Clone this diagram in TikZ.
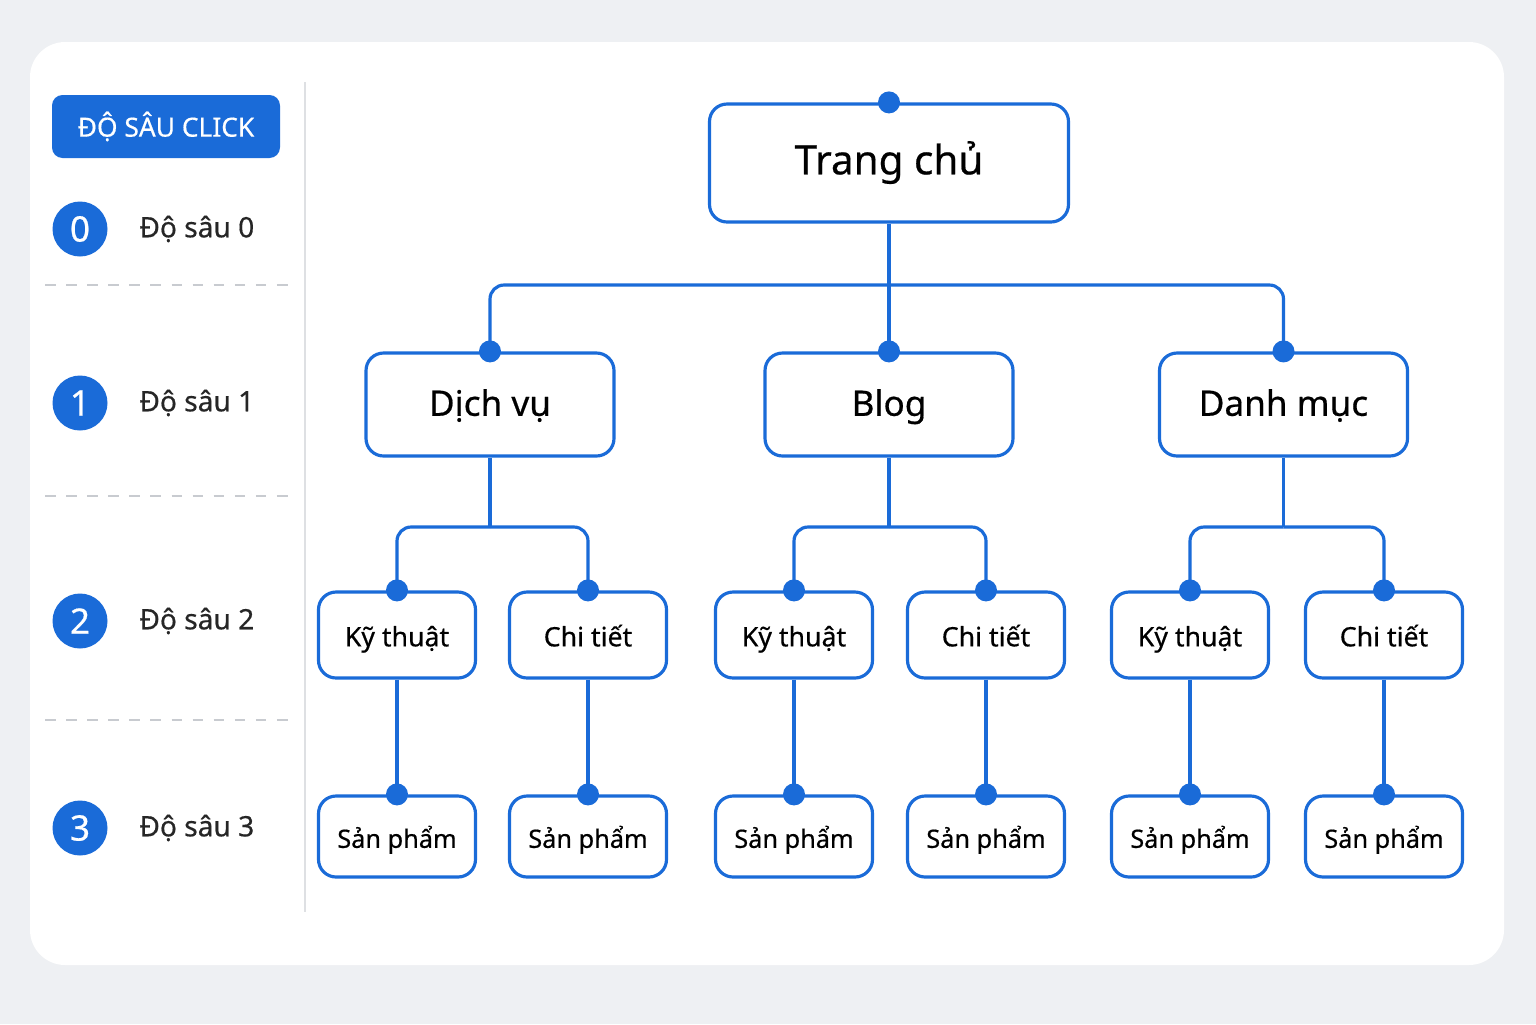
\documentclass[tikz,border=0pt]{standalone}
\usepackage{fontspec}
\setmainfont{Noto Sans}
\newfontfamily\med{Noto Sans}[FakeBold=0.5]
\definecolor{bgray}{HTML}{EEF0F3}
\definecolor{mainblue}{HTML}{1A6BD8}
\definecolor{sepgray}{HTML}{C8CBD0}
\tikzset{
  box/.style={draw=mainblue, line width=0.9pt, rounded corners=5pt, fill=white, align=center,
              inner xsep=0pt, text height=1.7ex, text depth=0.5ex},
  link/.style={draw=mainblue, line width=0.9pt, rounded corners=4pt},
  dot/.style={circle, fill=mainblue, inner sep=0pt, minimum size=0.22cm},
  level/.style={circle, fill=mainblue, text=white, inner sep=0pt, minimum size=0.55cm, font=\med\fontsize{10}{12}\selectfont},
  lvtext/.style={anchor=west, font=\med\fontsize{8}{10}\selectfont, text=black!85}
}
\begin{document}
\begin{tikzpicture}
  % Background and card
  \fill[bgray] (0,0) rectangle (15.36,-10.24);
  \useasboundingbox (0,0) rectangle (15.36,-10.24);
  \fill[white, rounded corners=10pt] (0.30,-0.42) rectangle (15.04,-9.65);
  \draw[sepgray!60, line width=0.6pt] (3.05,-0.82) -- (3.05,-9.12);

  % Depth legend
  \node[fill=mainblue, rounded corners=3pt, text=white, minimum width=2.28cm, minimum height=0.63cm,
        font=\med\fontsize{7.5}{9}\selectfont] (title) at (1.66,-1.265) {ĐỘ SÂU CLICK};
  \node[level] (l0) at (0.80,-2.29) {0};
  \node[level] (l1) at (0.80,-4.03) {1};
  \node[level] (l2) at (0.80,-6.21) {2};
  \node[level] (l3) at (0.80,-8.28) {3};
  \node[lvtext] (t0) at (1.27,-2.29) {Độ sâu 0};
  \node[lvtext] (t1) at (1.27,-4.03) {Độ sâu 1};
  \node[lvtext] (t2) at (1.27,-6.21) {Độ sâu 2};
  \node[lvtext] (t3) at (1.27,-8.28) {Độ sâu 3};
  \draw[sepgray, dashed, line width=0.8pt] (0.45,-2.85) -- (2.88,-2.85);
  \draw[sepgray, dashed, line width=0.8pt] (0.45,-4.96) -- (2.88,-4.96);
  \draw[sepgray, dashed, line width=0.8pt] (0.45,-7.20) -- (2.88,-7.20);

  % Tree nodes
  \node[box, minimum width=3.59cm, minimum height=1.18cm, font=\med\fontsize{11.5}{14}\selectfont] (home) at (8.89,-1.63) {Trang chủ};
  \node[box, minimum width=2.48cm, minimum height=1.03cm, font=\med\fontsize{10}{12}\selectfont] (dv) at (4.90,-4.045) {Dịch vụ};
  \node[box, minimum width=2.48cm, minimum height=1.03cm, font=\med\fontsize{10}{12}\selectfont] (blog) at (8.89,-4.045) {Blog};
  \node[box, minimum width=2.48cm, minimum height=1.03cm, font=\med\fontsize{10}{12}\selectfont] (dm) at (12.835,-4.045) {Danh mục};
  \foreach \x/\n/\lbl in {3.97/a/Kỹ thuật, 5.88/b/Chi tiết, 7.94/c/Kỹ thuật, 9.86/d/Chi tiết, 11.90/e/Kỹ thuật, 13.84/f/Chi tiết} {
    \node[box, minimum width=1.57cm, minimum height=0.86cm, font=\med\fontsize{7.6}{9}\selectfont] (k\n) at (\x,-6.35) {\lbl};
    \node[box, minimum width=1.57cm, minimum height=0.81cm, font=\med\fontsize{7.2}{9}\selectfont] (s\n) at (\x,-8.365) {Sản phẩm};
  }

  % Junctions
  \coordinate (j0) at (8.89,-2.85);
  \coordinate (j1) at (4.90,-5.27);
  \coordinate (j2) at (8.89,-5.27);
  \coordinate (j3) at (12.835,-5.27);

  % Edges
  \draw[link] (home.south) -- (j0);
  \draw[link] (j0) -| (dv.north);
  \draw[link] (j0) -- (blog.north);
  \draw[link] (j0) -| (dm.north);
  \draw[link] (dv.south) -- (j1);
  \draw[link] (j1) -| (ka.north);
  \draw[link] (j1) -| (kb.north);
  \draw[link] (blog.south) -- (j2);
  \draw[link] (j2) -| (kc.north);
  \draw[link] (j2) -| (kd.north);
  \draw[link] (dm.south) -- (j3);
  \draw[link] (j3) -| (ke.north);
  \draw[link] (j3) -| (kf.north);
  \foreach \n in {a,b,c,d,e,f} {
    \draw[link] (k\n.south) -- (s\n.north);
    \node[dot] (dk\n) at (k\n.north) {};
    \node[dot] (ds\n) at (s\n.north) {};
  }

  % Dots on upper boxes
  \node[dot] (dhome) at (home.north) {};
  \node[dot] (ddv) at (dv.north) {};
  \node[dot] (dblog) at (blog.north) {};
  \node[dot] (ddm) at (dm.north) {};
\end{tikzpicture}
\end{document}
